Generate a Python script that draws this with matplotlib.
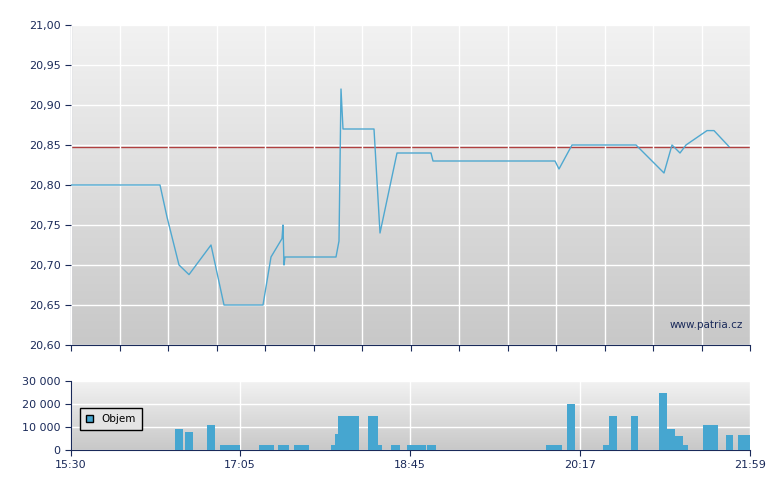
import numpy as np
import matplotlib
matplotlib.use("Agg")
import matplotlib.pyplot as plt
from matplotlib.patches import Patch

# x in chart units (0 = 15:30, 679 = 21:59)
price_x = [0, 89, 96, 108, 118, 140, 153, 192, 200, 211, 212, 213, 214, 265, 268, 270, 272,
           303, 309, 326, 360, 362, 484, 488, 501, 565, 593, 601, 609, 615, 636, 643, 658]
price_y = [20.80, 20.80, 20.76, 20.70, 20.688, 20.725, 20.65, 20.65, 20.71, 20.733, 20.75,
           20.70, 20.71, 20.71, 20.73, 20.92, 20.87, 20.87, 20.74, 20.84, 20.84, 20.83, 20.83,
           20.82, 20.85, 20.85, 20.815, 20.85, 20.84, 20.85, 20.868, 20.868, 20.848]
ref_price = 20.848

vol_left = [104, 114, 136, 149, 159, 188, 207, 223, 260, 263.5, 267, 297, 307, 320, 336, 356,
            475, 496, 532, 538, 560, 588, 596, 604, 612, 632, 655, 667]
vol_right = [112, 122, 144, 159, 169, 203, 218, 238, 263.5, 267, 288, 307, 311, 329, 355, 365,
             491, 504, 538, 546, 567, 596, 604, 612, 617, 647, 662, 679]
vol_h = [9000, 8000, 11000, 2000, 2000, 2000, 2000, 2000, 2000, 7000, 15000, 15000, 2000,
         2000, 2000, 2000, 2000, 20000, 2000, 15000, 15000, 25000, 9000, 6000, 2000, 11000,
         6500, 6500]

tick_pos = [0, 169, 339, 509, 679]
tick_lab = ["15:30", "17:05", "18:45", "20:17", "21:59"]

navy = "#1a2a5a"
bar_c = "#46a6d0"
W, H = 780, 490
fig = plt.figure(figsize=(7.8, 4.9), dpi=100)
ax1 = fig.add_axes([71 / W, 1 - 345 / H, 679 / W, 320 / H])
ax2 = fig.add_axes([71 / W, 1 - 450 / H, 679 / W, 69 / H])

grad = np.linspace(0, 1, 256).reshape(-1, 1)
for ax, ylim in ((ax1, (20.60, 21.00)), (ax2, (0, 30000))):
    ax.imshow(grad, aspect="auto", cmap=matplotlib.colors.LinearSegmentedColormap.from_list(
        "g", ["#f2f2f2", "#c8c8c8"]), extent=(0, 679, ylim[0], ylim[1]), zorder=0)
    ax.set_xlim(0, 679)
    ax.set_ylim(*ylim)
    for s in ("top", "right"):
        ax.spines[s].set_visible(False)
    for s in ("left", "bottom"):
        ax.spines[s].set_color(navy)
    ax.tick_params(colors=navy, labelsize=8, length=4, direction="out")

ax1.set_yticks(np.arange(20.60, 21.001, 0.05))
ax1.set_yticklabels([f"{v:.2f}".replace(".", ",") for v in np.arange(20.60, 21.001, 0.05)])
ax1.set_xticks(np.linspace(0, 679, 15))
ax1.set_xticklabels([])
ax1.grid(True, color="white", linewidth=1)
ax1.set_axisbelow(False)
ax1.plot(price_x, price_y, color="#4fa8d0", linewidth=1, zorder=3)
ax1.axhline(ref_price, color="#b04040", linewidth=1, zorder=2)
ax1.text(672, 20.625, "www.patria.cz", color=navy, fontsize=7.5, ha="right", va="center")

ax2.set_yticks([0, 10000, 20000, 30000])
ax2.set_yticklabels(["0", "10 000", "20 000", "30 000"])
ax2.set_xticks(tick_pos)
ax2.set_xticklabels(tick_lab)
ax2.grid(True, color="white", linewidth=1)
ax2.bar(vol_left, vol_h, width=np.array(vol_right) - np.array(vol_left), align="edge",
        color=bar_c, zorder=3)
leg = ax2.legend(handles=[Patch(facecolor=bar_c, edgecolor="black", label="Objem")],
                 loc="center left", bbox_to_anchor=(0.005, 0.45), fontsize=7.5,
                 fancybox=False, framealpha=1, handlelength=0.7, handleheight=0.7,
                 borderpad=0.6)
leg.get_frame().set_edgecolor("black")
leg.get_frame().set_facecolor("#e4e4e4")

fig.savefig("out.png", dpi=100)
